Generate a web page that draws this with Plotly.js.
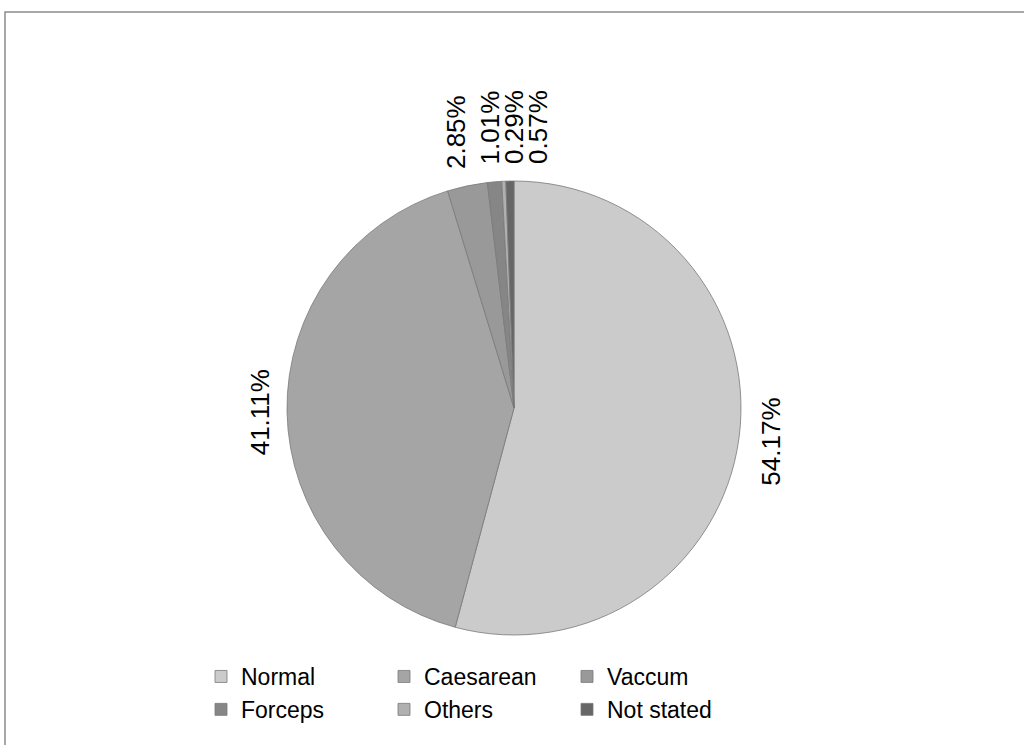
<!DOCTYPE html>
<html>
<head>
<meta charset="utf-8">
<script src="https://cdn.plot.ly/plotly-3.0.1.min.js"></script>
<style>
  html, body { margin: 0; padding: 0; background: #ffffff; }
  #chart { width: 1024px; height: 745px; }
</style>
</head>
<body>
<div id="chart"></div>
<script>
// ---- data ----
const categories = ['Normal', 'Caesarean', 'Vaccum', 'Forceps', 'Others', 'Not stated'];
const percentages = [54.17, 41.11, 2.85, 1.01, 0.29, 0.57];
const percentLabels = ['54.17%', '41.11%', '2.85%', '1.01%', '0.29%', '0.57%'];
const sliceColors = ['#cbcbcb', '#a5a5a5', '#999999', '#868686', '#b0b0b0', '#666666'];

// ---- layout constants ----
const W = 1024, H = 745;
const M = {l: 200, r: 200, t: 0, b: 0};
const PW = W - M.l - M.r, PH = H - M.t - M.b;
const cx = 514, cy = 408, R = 227;
const labelFont = 26, fontFamily = 'Liberation Sans, Arial, sans-serif';

const halfW = Math.min(cx - M.l, W - M.r - cx);
const domainX = [(cx - halfW - M.l) / PW, (cx + halfW - M.l) / PW];
const domainY = [1 - (cy + R - M.t) / PH, 1 - (cy - R - M.t) / PH];

// ---- label placement (outside, rotated) computed from the values ----
const ctx = document.createElement('canvas').getContext('2d');
ctx.font = labelFont + 'px Liberation Sans';
const total = percentages.reduce((a, b) => a + b, 0);
let cum = 0;
const labels = percentages.map((v, i) => {
  const mid = (cum + v / 2) / total * 2 * Math.PI;
  cum += v;
  const s = Math.sin(mid), c = Math.cos(mid);
  const len = ctx.measureText(percentLabels[i]).width;
  const thick = labelFont * 0.72;
  const d = R + 17 + Math.abs(s) * thick / 2 + Math.abs(c) * len / 2;
  return {i, x: cx + d * s, y: cy - d * c, top: c > 0.7};
});
// spread crowded labels at the top
const topLabels = labels.filter(l => l.top).sort((a, b) => a.x - b.x);
const sep = 24;
for (let k = 1; k < topLabels.length; k++) {
  topLabels[k].x = Math.max(topLabels[k].x, topLabels[k - 1].x + sep);
}

const annotations = labels.map(l => ({
  text: percentLabels[l.i],
  xref: 'paper', yref: 'paper',
  x: (l.x - M.l) / PW, y: 1 - (l.y - M.t) / PH,
  xanchor: 'center', yanchor: 'middle',
  textangle: -90, showarrow: false,
  font: {family: fontFamily, size: labelFont, color: '#000000'}
}));

const trace = {
  type: 'pie',
  labels: categories,
  values: percentages,
  sort: false,
  direction: 'clockwise',
  rotation: 0,
  textinfo: 'none',
  hoverinfo: 'label+percent',
  domain: {x: domainX, y: domainY},
  marker: {colors: sliceColors, line: {color: '#7a7a7a', width: 0.8}}
};

const layout = {
  width: W, height: H,
  margin: M,
  paper_bgcolor: '#ffffff',
  plot_bgcolor: '#ffffff',
  showlegend: true,
  legend: {
    orientation: 'h',
    x: (201 - M.l) / PW, xanchor: 'left',
    y: 1 - (655 - M.t) / PH, yanchor: 'top',
    entrywidth: 138,
    font: {family: fontFamily, size: 23, color: '#000000'},
    traceorder: 'normal'
  },
  annotations: annotations,
  shapes: [{
    type: 'rect', xref: 'paper', yref: 'paper',
    x0: (5 - M.l) / PW, x1: (W + 10 - M.l) / PW,
    y0: 1 - (H + 10) / PH, y1: 1 - 12 / PH,
    line: {color: '#8c8c8c', width: 1.5},
    fillcolor: 'rgba(0,0,0,0)', layer: 'below'
  }]
};

Plotly.newPlot('chart', [trace], layout, {displayModeBar: false, staticPlot: true});
</script>
</body>
</html>
